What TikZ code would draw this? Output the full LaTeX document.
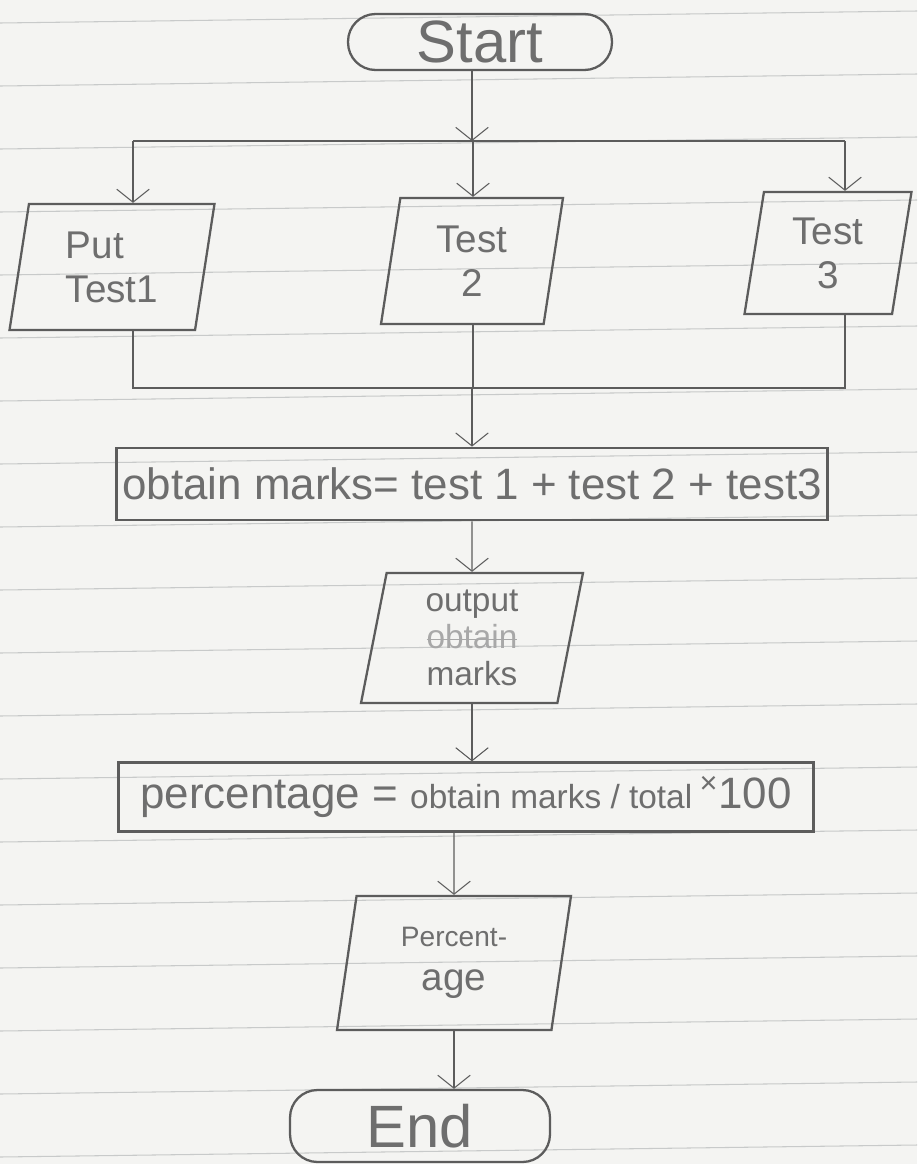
\documentclass[tikz,border=0pt]{standalone}
\usepackage{fontspec}
\setmainfont{Liberation Sans}
\usetikzlibrary{arrows.meta, shapes.geometric}
\definecolor{pencil}{HTML}{5C5C5C}
\definecolor{lead}{HTML}{6E6E6E}
\definecolor{paper}{HTML}{F4F4F2}
\definecolor{ruling}{HTML}{C8CACA}
\newcommand\strikeword[1]{\setbox0\hbox{#1}\rlap{\copy0}\rule[0.25em]{\wd0}{0.8pt}}
\tikzset{
  term/.style={draw=pencil, line width=1.3pt, rounded corners=0.55cm,
               minimum width=5.28cm, minimum height=1.12cm, inner sep=1pt,
               font=\fontsize{34}{36}\selectfont, text=lead},
  proc/.style={draw=pencil, line width=1.3pt, minimum height=1.45cm,
               font=\fontsize{25}{28}\selectfont, text=lead},
  io/.style={draw=pencil, line width=1.3pt, trapezium, trapezium left angle=76,
             trapezium right angle=104, trapezium stretches body, align=center,
             inner sep=2pt, font=\fontsize{22}{25}\selectfont, text=lead},
  link/.style={-{Straight Barb[length=2.6mm, width=6.5mm]}, semithick, pencil},
  joint/.style={semithick, pencil},
}
\begin{document}
\begin{tikzpicture}[x=0.02cm, y=-0.02cm]
  % ---- ruled paper ----
  \fill[paper] (0,0) rectangle (917,1164);
  \useasboundingbox (0,0) rectangle (917,1164);
  \foreach \k in {0,...,18}
    \draw[ruling, line width=0.6pt] (0,{23+63*\k}) -- (917,{11+63*\k});

  % ---- start and the three tests ----
  \node[term] (start) at (480,42) {Start};
  \node[io, minimum width=4.1cm, minimum height=2.52cm, align=left] (t1) at (112,267) {Put\\Test1};
  \node[io, minimum width=3.64cm, minimum height=2.52cm] (t2) at (472,261) {Test\\2};
  \node[io, minimum width=3.34cm, minimum height=2.44cm] (t3) at (828,253) {Test\\3};
  \coordinate (fork) at (472,141);
  \coordinate (d1) at (133,141);
  \coordinate (d2) at (473,141);
  \coordinate (d3) at (845,141);
  \coordinate (merge) at (472,388);

  % ---- sums and outputs ----
  \node[proc, minimum width=14.16cm] (obt) at (472,484)
    {obtain marks= test 1 + test 2 + test3};
  \node[io, minimum width=4.44cm, minimum height=2.6cm, font=\fontsize{19}{21}\selectfont] (out1) at (472,638)
    {output\\{\color{lead!60}\strikeword{obtain}}\\marks};
  \node[proc, minimum width=13.9cm, minimum height=1.38cm] (pct) at (466,797)
    {percentage = {\fontsize{19}{22}\selectfont obtain marks / total}\,\textsuperscript{×}100};
  \node[io, minimum width=4.68cm, minimum height=2.68cm] (out2) at (454,963)
    {{\fontsize{16}{18}\selectfont Percent-}\\age};
  \node[term, minimum width=5.2cm, minimum height=1.44cm] (stop) at (420,1126) {End};

  % ---- connectors ----
  \draw[link] (start.south -| fork) -- (fork);
  \draw[joint] (d1) -- (d3);
  \draw[link] (d1) -- (d1 |- t1.north);
  \draw[link] (d2) -- (d2 |- t2.north);
  \draw[link] (d3) -- (d3 |- t3.north);
  \draw[joint] (d1 |- t1.south) |- (merge);
  \draw[joint] (d3 |- t3.south) |- (merge);
  \draw[joint] (d2 |- t2.south) -- (d2 |- merge);
  \draw[link] (merge) -- (merge |- obt.north);
  \draw[link] (obt.south -| out1) -- (out1.north);
  \draw[link] (out1.south) -- (out1.south |- pct.north);
  \draw[link] (pct.south -| out2) -- (out2.north);
  \draw[link] (out2.south) -- (out2.south |- stop.north);
\end{tikzpicture}
\end{document}
